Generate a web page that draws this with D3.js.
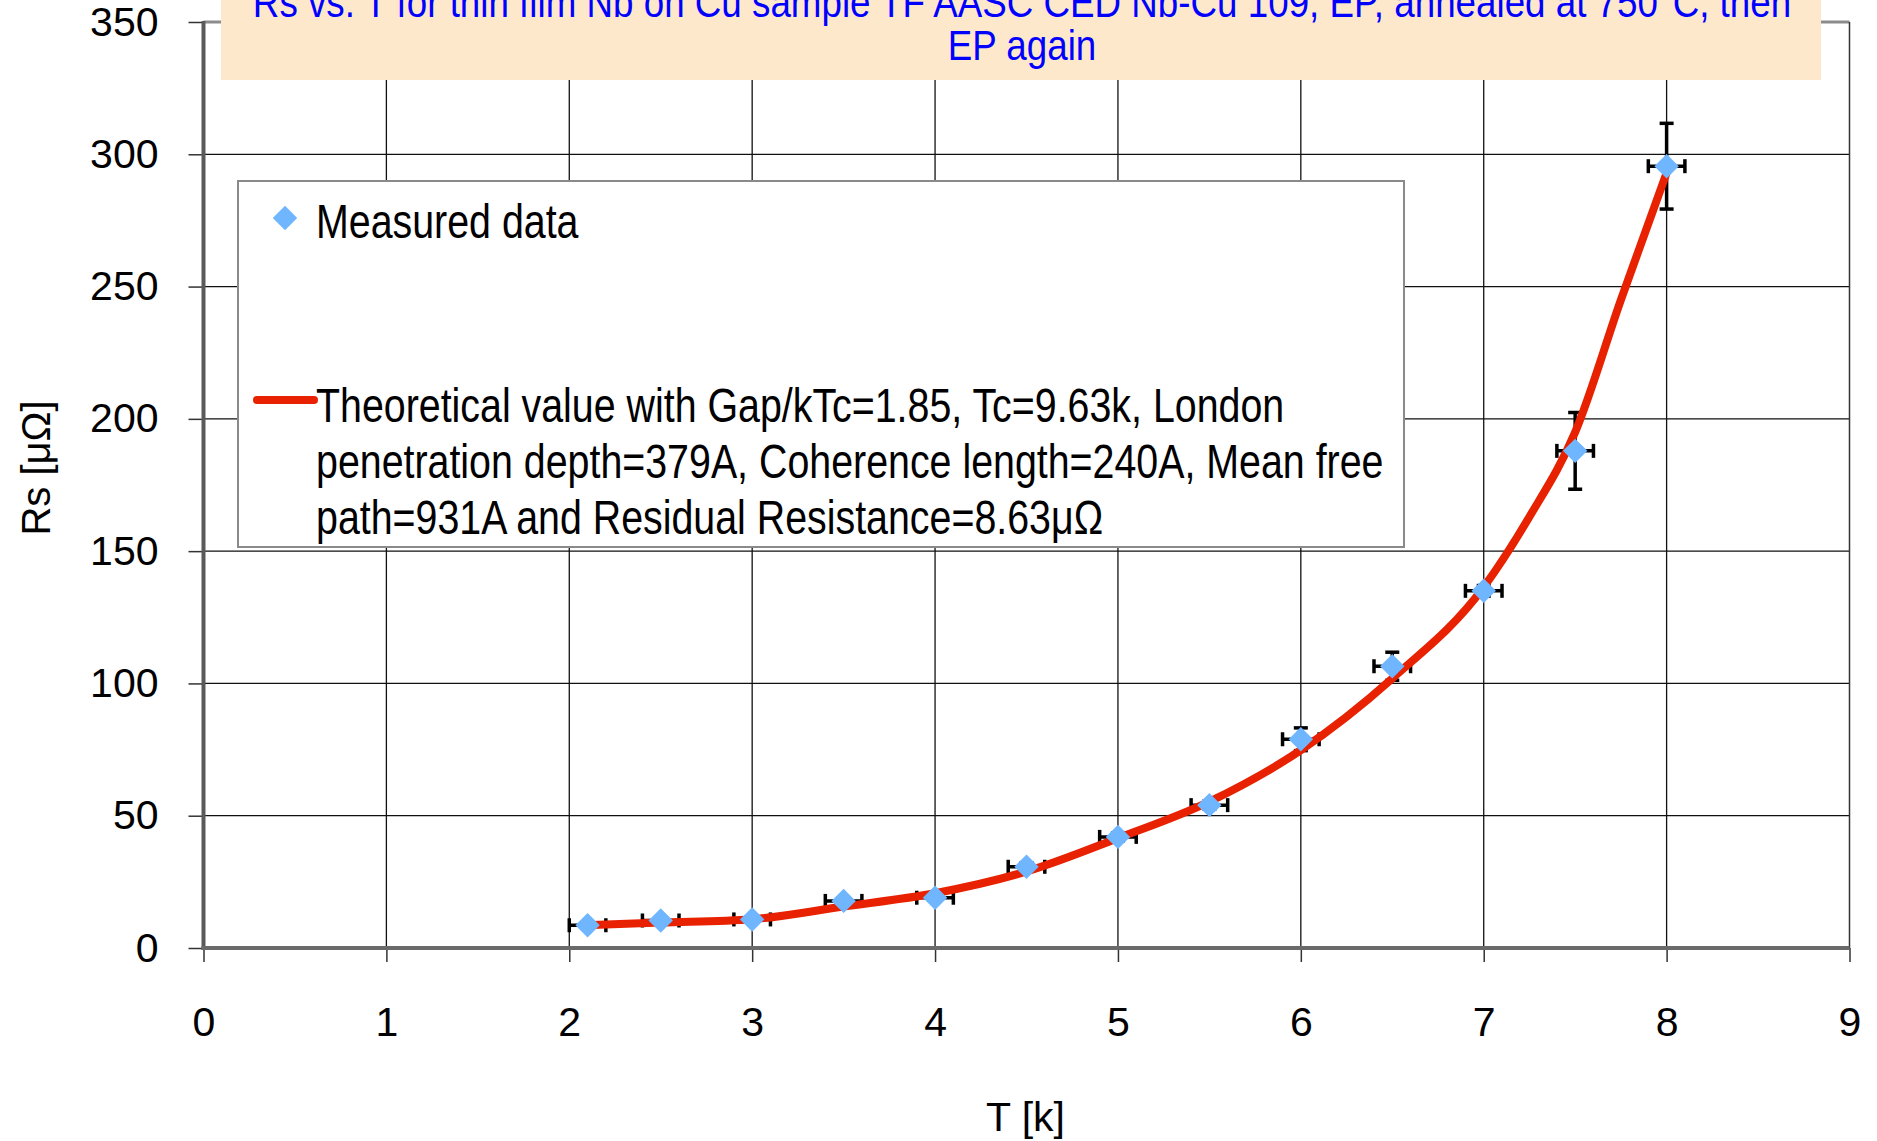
<!DOCTYPE html>
<html lang="en">
<head>
    <meta charset="UTF-8">
    <title>Rs vs. T</title>
    <script src="https://d3js.org/d3.v7.min.js"></script>
    <style>
        body {
            margin: 0;
            background: #fff;
        }
        svg text {
            font-family: 'Liberation Sans', Arial, sans-serif;
        }
    </style>
</head>
<body>
    <div id="chart"></div>

    <script>
        // measured points
        const measT = [2.1, 2.5, 3, 3.5, 4, 4.5, 5, 5.5, 6, 6.5, 7, 7.5, 8];
        const measRs = [8.6, 10.4, 10.8, 17.8, 19.0, 30.7, 42.0, 54.0, 78.9, 106.5, 135.0, 187.9, 295.5];
        const errRs = [1, 1, 1, 1, 1, 1.5, 1.5, 1.5, 4.3, 5.3, 2, 14.5, 16.2];
        const errT = [0.1, 0.1, 0.1, 0.1, 0.1, 0.1, 0.1, 0.1, 0.1, 0.1, 0.1, 0.1, 0.1];

        // theoretical curve
        const curveT = [2.1, 2.5, 3, 3.5, 4, 4.5, 5, 5.5, 6, 6.5, 7, 7.25, 7.5, 7.75, 8];
        const curveRs = [8.6, 9.6, 10.9, 15.7, 20.7, 28.9, 41.5, 55.3, 74.8, 101.9, 136.4, 163, 195, 245, 293];

        const xTicks = [0, 1, 2, 3, 4, 5, 6, 7, 8, 9];
        const yTicks = [0, 50, 100, 150, 200, 250, 300, 350];

        const titleLines = [
            'Rs vs. T for thin film Nb on Cu sample TF AASC CED Nb-Cu 109, EP, annealed at 750°C, then',
            'EP again'
        ];
        const legendLabels = [
            'Measured data',
            'Theoretical value with Gap/kTc=1.85, Tc=9.63k, London',
            'penetration depth=379A, Coherence length=240A, Mean free',
            'path=931A and Residual Resistance=8.63μΩ'
        ];

        const W = 1877, H = 1141;
        const svg = d3.select('#chart').append('svg')
            .attr('width', W)
            .attr('height', H);

        const x = d3.scaleLinear().domain([0, 9]).range([203.5, 1849.5]);
        const y = d3.scaleLinear().domain([0, 350]).range([948, 22]);

        // gridlines
        svg.append('g').selectAll('line')
            .data(xTicks.slice(1, -1))
            .enter().append('line')
            .attr('x1', d => x(d)).attr('x2', d => x(d))
            .attr('y1', y(0)).attr('y2', y(350))
            .attr('stroke', '#111')
            .attr('stroke-width', 1.3);

        svg.append('g').selectAll('line')
            .data(yTicks.slice(1, -1))
            .enter().append('line')
            .attr('x1', x(0)).attr('x2', x(9))
            .attr('y1', d => y(d)).attr('y2', d => y(d))
            .attr('stroke', '#111')
            .attr('stroke-width', 1.3);

        // frame top and right
        svg.append('line')
            .attr('x1', x(0)).attr('x2', x(9))
            .attr('y1', y(350)).attr('y2', y(350))
            .attr('stroke', '#8c8c8c').attr('stroke-width', 3);
        svg.append('line')
            .attr('x1', x(9)).attr('x2', x(9))
            .attr('y1', y(350)).attr('y2', y(0))
            .attr('stroke', '#333').attr('stroke-width', 1.5);

        // axes
        const yAxis = svg.append('g')
            .attr('transform', `translate(${x(0)},0)`)
            .call(d3.axisLeft(y).tickValues(yTicks).tickSize(15).tickPadding(30));
        const xAxis = svg.append('g')
            .attr('transform', `translate(0,${y(0)})`)
            .call(d3.axisBottom(x).tickValues(xTicks).tickSize(14).tickPadding(45));

        [yAxis, xAxis].forEach(g => {
            g.select('.domain').remove();
            g.selectAll('.tick line').attr('stroke', '#333').attr('stroke-width', 1.5);
            g.selectAll('.tick text')
                .attr('fill', '#000')
                .style('font-size', '41px');
        });

        // axis lines, thick gray
        svg.append('line')
            .attr('x1', x(0)).attr('x2', x(0))
            .attr('y1', y(350) - 1).attr('y2', y(0) + 2)
            .attr('stroke', '#5a5a5a').attr('stroke-width', 4);
        svg.append('line')
            .attr('x1', x(0) - 2).attr('x2', x(9))
            .attr('y1', y(0)).attr('y2', y(0))
            .attr('stroke', '#6a6a6a').attr('stroke-width', 4);

        // axis titles
        svg.append('text')
            .attr('x', x(4.5) - 1)
            .attr('y', 1131)
            .attr('text-anchor', 'middle')
            .style('font-size', '41px')
            .text('T [k]');

        svg.append('text')
            .attr('transform', 'translate(50,468) rotate(-90)')
            .attr('text-anchor', 'middle')
            .style('font-size', '40px')
            .text('Rs [μΩ]');

        // legend box
        const legend = svg.append('g');
        legend.append('rect')
            .attr('x', 238).attr('y', 181)
            .attr('width', 1166).attr('height', 366)
            .attr('fill', '#fff')
            .attr('stroke', '#8a8a8a')
            .attr('stroke-width', 2);

        legend.append('path')
            .attr('d', d3.symbol(d3.symbolDiamond2, 380)())
            .attr('transform', 'translate(285,218)')
            .attr('fill', '#6fb6ff');

        legend.append('line')
            .attr('x1', 257).attr('x2', 314)
            .attr('y1', 400).attr('y2', 400)
            .attr('stroke', '#e82200')
            .attr('stroke-width', 8)
            .attr('stroke-linecap', 'round');

        const legendY = [238, 422, 478, 534];
        legendLabels.forEach((t, i) => {
            legend.append('text')
                .attr('transform', `translate(316,${legendY[i]}) scale(0.82,1)`)
                .style('font-size', '48px')
                .attr('fill', '#000')
                .text(t);
        });

        // title box
        svg.append('rect')
            .attr('x', 221).attr('y', -10)
            .attr('width', 1600).attr('height', 90)
            .attr('fill', '#fde8cb');

        const titleY = [17, 60];
        titleLines.forEach((t, i) => {
            svg.append('text')
                .attr('transform', `translate(1022,${titleY[i]}) scale(0.855,1)`)
                .attr('text-anchor', 'middle')
                .style('font-size', '43px')
                .attr('fill', '#0000ff')
                .text(t);
        });

        // error bars
        const meas = measT.map((t, i) => ({ t, rs: measRs[i], et: errT[i], er: errRs[i] }));
        const bars = svg.append('g')
            .attr('stroke', '#000')
            .attr('stroke-width', 3.5);
        const cap = 7;

        meas.forEach(d => {
            const cx = x(d.t), cy = y(d.rs);
            const x0 = x(d.t - d.et), x1 = x(d.t + d.et);
            const y0 = y(d.rs - d.er), y1 = y(d.rs + d.er);
            bars.append('line').attr('x1', x0).attr('x2', x1).attr('y1', cy).attr('y2', cy);
            bars.append('line').attr('x1', x0).attr('x2', x0).attr('y1', cy - cap).attr('y2', cy + cap);
            bars.append('line').attr('x1', x1).attr('x2', x1).attr('y1', cy - cap).attr('y2', cy + cap);
            bars.append('line').attr('x1', cx).attr('x2', cx).attr('y1', y0).attr('y2', y1);
            bars.append('line').attr('x1', cx - cap).attr('x2', cx + cap).attr('y1', y0).attr('y2', y0);
            bars.append('line').attr('x1', cx - cap).attr('x2', cx + cap).attr('y1', y1).attr('y2', y1);
        });

        // theoretical curve
        const curveData = curveT.map((t, i) => [t, curveRs[i]]);
        svg.append('path')
            .datum(curveData)
            .attr('d', d3.line()
                .x(d => x(d[0]))
                .y(d => y(d[1]))
                .curve(d3.curveMonotoneX))
            .attr('fill', 'none')
            .attr('stroke', '#e82200')
            .attr('stroke-width', 8)
            .attr('stroke-linecap', 'round');

        // measured diamonds
        svg.append('g').selectAll('path')
            .data(meas)
            .enter().append('path')
            .attr('d', d3.symbol(d3.symbolDiamond2, 380)())
            .attr('transform', d => `translate(${x(d.t)},${y(d.rs)})`)
            .attr('fill', '#6fb6ff');
    </script>
</body>
</html>
